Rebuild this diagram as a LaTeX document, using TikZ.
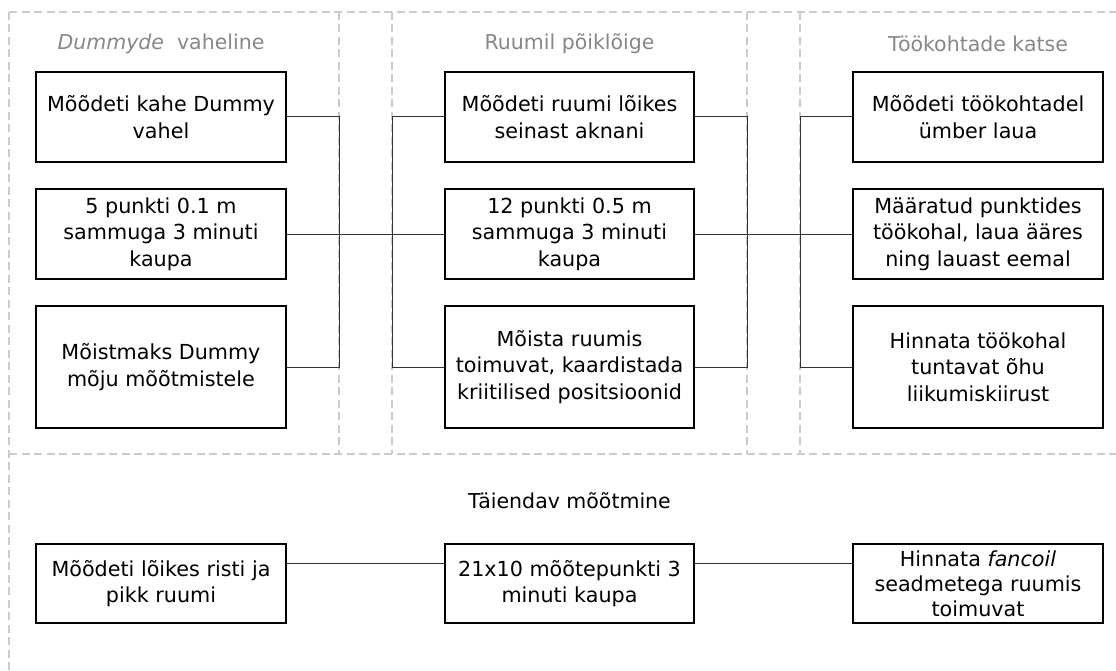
\documentclass[tikz,border=0pt]{standalone}
\usepackage{fontspec}
\setmainfont{DejaVu Sans}
\begin{document}
\begin{tikzpicture}[x=1pt,y=-1pt,
  stepbox/.style={draw=black, line width=2pt, fill=white, align=center,
    inner sep=0pt, font=\fontsize{20.7}{26.5}\selectfont},
  conn/.style={draw=black!80, line width=1pt},
  frame/.style={draw=black!20, line width=1.6pt, dash pattern=on 8pt off 4.5pt},
  title/.style={font=\fontsize{20.5}{24}\selectfont, text=black!47, inner sep=0pt}]
\useasboundingbox (0,0) rectangle (1116,671);

% dashed frames of the three groups and the extra measurement band
\draw[frame] (9,12) -- (1116,12);
\draw[frame] (9,454) -- (1116,454);
\draw[frame] (9,12) -- (9,671);
\draw[frame] (339,12) -- (339,454);
\draw[frame] (392,12) -- (392,454);
\draw[frame] (747,12) -- (747,454);
\draw[frame] (800,12) -- (800,454);

% group titles
\node[title] (t1) at (161,44) {\textit{Dummyde}\ \ vaheline};
\node[title] (t2) at (569.5,44) {Ruumil põiklõige};
\node[title] (t3) at (978,44) {Töökohtade katse};
\node[title, text=black] (t4) at (569.5,501) {Täiendav mõõtmine};

% left column
\node[stepbox, minimum width=250pt, minimum height=90pt] (a1) at (161,117) {Mõõdeti kahe Dummy\\vahel};
\node[stepbox, minimum width=250pt, minimum height=90pt] (a2) at (161,234) {5 punkti 0.1 m\\sammuga 3 minuti\\kaupa};
\node[stepbox, minimum width=250pt, minimum height=122pt] (a3) at (161,367) {Mõistmaks Dummy\\mõju mõõtmistele};

% middle column
\node[stepbox, minimum width=249pt, minimum height=90pt] (m1) at (569.5,117) {Mõõdeti ruumi lõikes\\seinast aknani};
\node[stepbox, minimum width=249pt, minimum height=90pt] (m2) at (569.5,234) {12 punkti 0.5 m\\sammuga 3 minuti\\kaupa};
\node[stepbox, minimum width=249pt, minimum height=122pt] (m3) at (569.5,367) {Mõista ruumis\\toimuvat, kaardistada\\kriitilised positsioonid};

% right column
\node[stepbox, minimum width=250pt, minimum height=90pt] (r1) at (978,117) {Mõõdeti töökohtadel\\ümber laua};
\node[stepbox, minimum width=250pt, minimum height=90pt] (r2) at (978,234) {Määratud punktides\\töökohal, laua ääres\\ning lauast eemal};
\node[stepbox, minimum width=250pt, minimum height=122pt] (r3) at (978,367) {Hinnata töökohal\\tuntavat õhu\\liikumiskiirust};

% extra measurement row
\node[stepbox, minimum width=250pt, minimum height=79pt] (b1) at (161,583.5) {Mõõdeti lõikes risti ja\\pikk ruumi};
\node[stepbox, minimum width=249pt, minimum height=79pt] (b2) at (569.5,583.5) {21x10 mõõtepunkti 3\\minuti kaupa};
\node[stepbox, minimum width=250pt, minimum height=79pt, font=\fontsize{20.7}{25}\selectfont] (b3) at (978,583.5) {Hinnata \textit{fancoil}\\seadmetega ruumis\\toimuvat};

% junction positions
\coordinate (j1) at (339,0);
\coordinate (j2) at (392,0);
\coordinate (j3) at (747,0);
\coordinate (j4) at (800,0);
\coordinate (bl) at (0,563);

% connectors between the columns
\draw[conn] (a1.east) -- (a1.east -| j1) -- (a3.east -| j1) -- (a3.east);
\draw[conn] (m1.west) -- (m1.west -| j2) -- (m3.west -| j2) -- (m3.west);
\draw[conn] (a2.east) -- (m2.west);
\draw[conn] (m1.east) -- (m1.east -| j3) -- (m3.east -| j3) -- (m3.east);
\draw[conn] (r1.west) -- (r1.west -| j4) -- (r3.west -| j4) -- (r3.west);
\draw[conn] (m2.east) -- (r2.west);

% connectors of the extra row
\draw[conn] (b1.east |- bl) -- (b2.west |- bl);
\draw[conn] (b2.east |- bl) -- (b3.west |- bl);
\end{tikzpicture}
\end{document}
